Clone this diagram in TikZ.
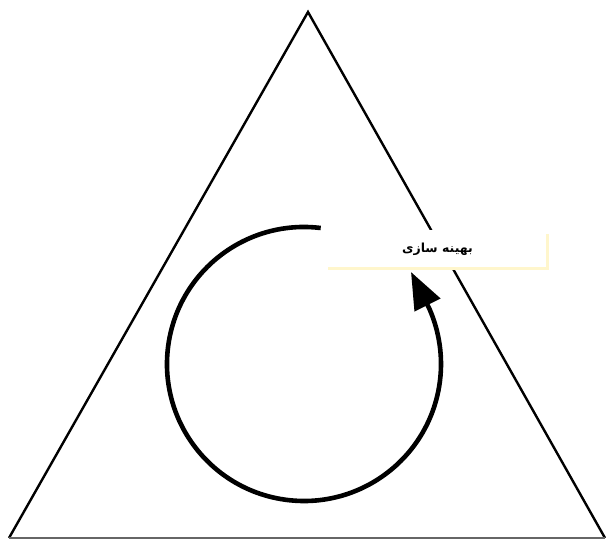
\documentclass[tikz,border=0pt]{standalone}
\usepackage{fontspec}
\usepackage{tikz}
\usetikzlibrary{arrows.meta, calc}
\newfontfamily\arabicfont[Script=Arabic, BoldFont={DejaVu Sans Bold}]{DejaVu Sans}
\TeXXeTstate=1
\definecolor{paleyellow}{RGB}{255,246,204}
\tikzstyle{side} = [line width=2.4pt, line join=miter]
\tikzstyle{base} = [line width=1.6pt, gray!80!black]
\tikzstyle{cyclearrow} = [line width=4.6pt, -{Triangle[length=37pt,width=28pt]}]
\tikzstyle{labelbox} = [fill=white, inner sep=0pt, minimum width=219pt, minimum height=38pt]

\begin{document}
\begin{tikzpicture}[x=1pt, y=1pt]
    \useasboundingbox (0,0) rectangle (606,540);
    \coordinate (top) at (308,528);
    \coordinate (left) at (9,2);
    \coordinate (right) at (605,2);
    \coordinate (ctr) at (304,176);
    \coordinate (tip) at (411,268);

    % Triangle
    \draw[side] (left) -- (top) -- (right);
    \draw[base] (left) -- (right);

    % Label
    \node (lbl) [labelbox] at (437.5,291) {\arabicfont\bfseries\fontsize{12.5}{15}\selectfont\beginR بهینه سازی\endR};
    \draw[paleyellow, line width=3pt] ([yshift=-4pt]lbl.north east) -- (lbl.south east) -- (lbl.south west);

    % Cycle
    \draw[cyclearrow] ($(ctr)+(83:137)$) arc[start angle=83, end angle=384, radius=137] -- (tip);
\end{tikzpicture}
\end{document}
